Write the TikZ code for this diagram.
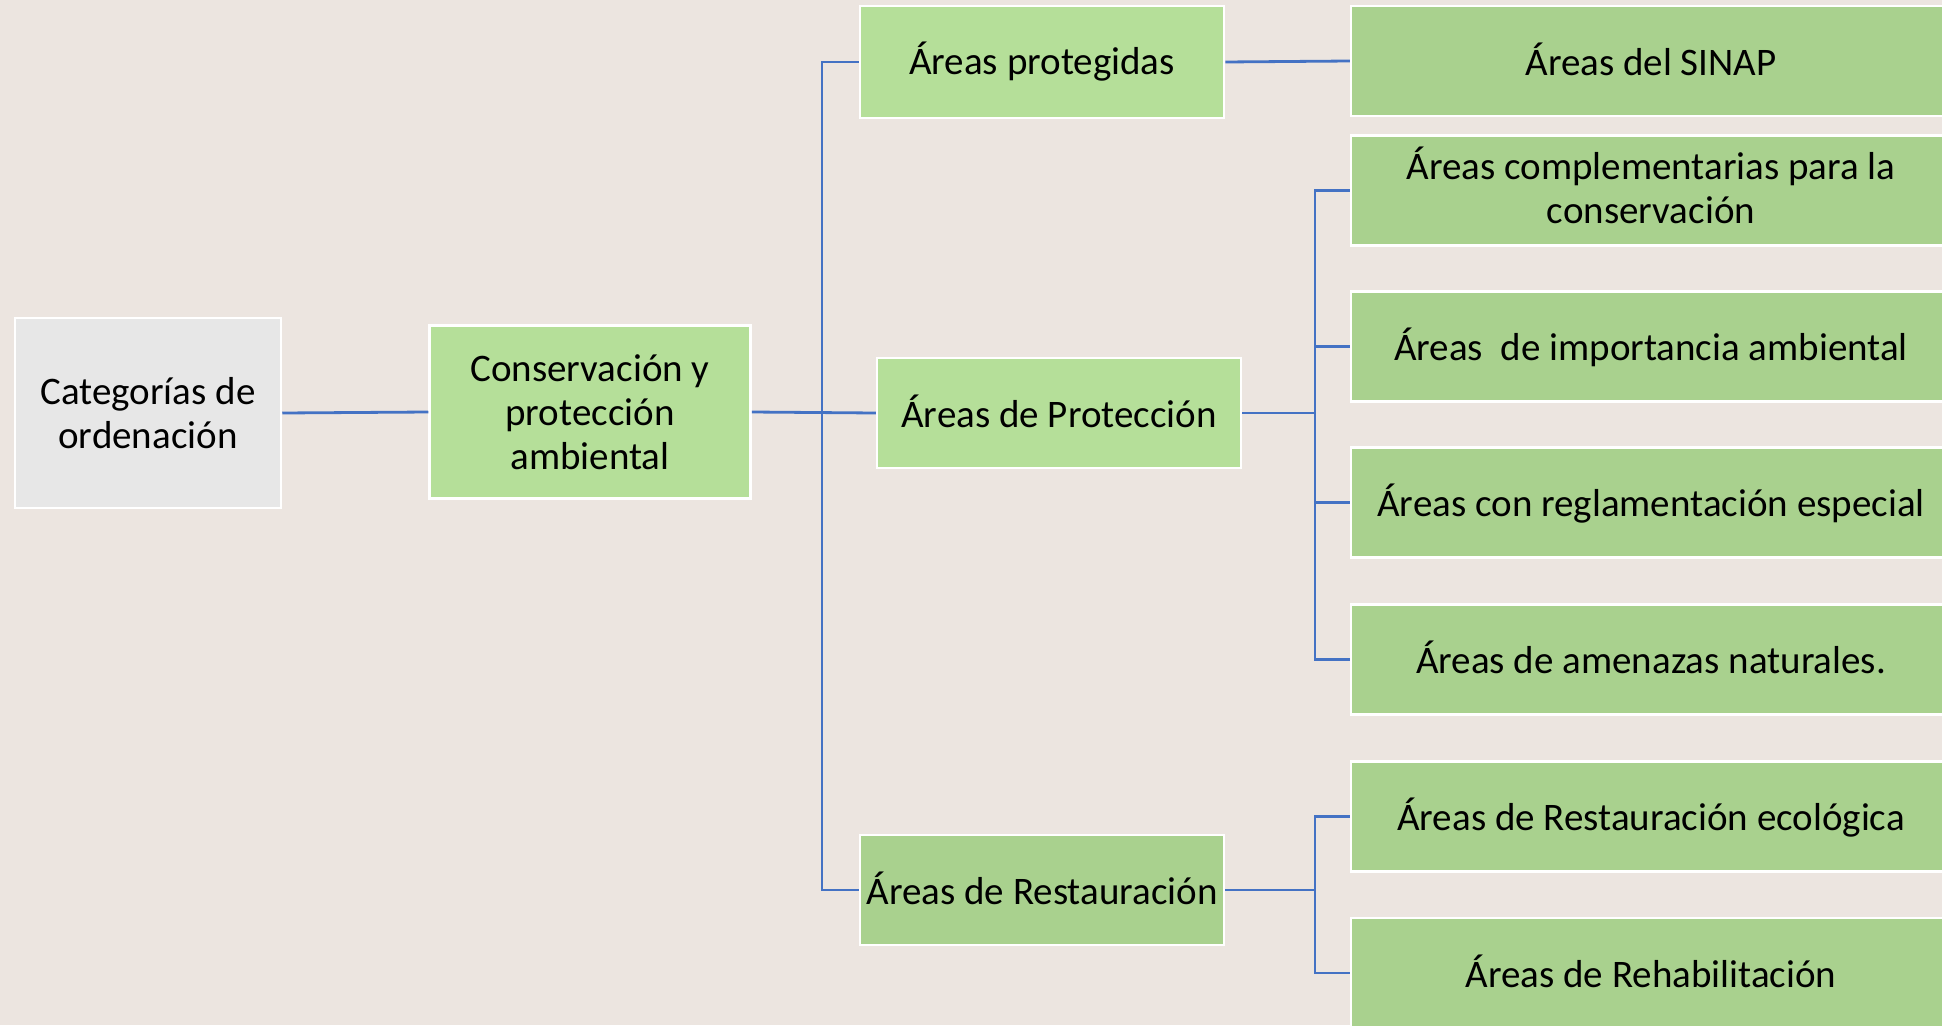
\documentclass[tikz,border=0pt]{standalone}
\usepackage{fontspec}
\setmainfont{Carlito}
\definecolor{bg}{HTML}{ECE5E0}
\definecolor{gA}{HTML}{B5DF99}
\definecolor{gB}{HTML}{A9D18E}
\definecolor{grey}{HTML}{E7E7E7}
\definecolor{line}{HTML}{4472C4}
\tikzset{
  box/.style={draw=white, line width=2.5pt, inner sep=0pt, align=center,
    font=\fontsize{39}{44}\selectfont, text=black},
  one/.style={text height=36pt, text depth=8pt},
  conn/.style={draw=line, line width=2.8pt}
}
\begin{document}
\begin{tikzpicture}[x=1pt,y=-1pt]
\useasboundingbox (0,0) rectangle (1942,1025);
\clip (0,0) rectangle (1942,1025);
\fill[bg] (0,0) rectangle (1942,1025);

\node[box, fill=grey, minimum width=266pt, minimum height=190pt] (cat) at (148,413) {Categorías de\\ordenación};
\node[box, fill=gA, minimum width=321pt, minimum height=173pt] (cons) at (590,412) {Conservación y\\protección\\ambiental};
\node[box, fill=gA, minimum width=364pt, minimum height=112pt, text height=36pt, text depth=11pt] (prot) at (1042,62) {Áreas protegidas};
\node[box, one, fill=gA, minimum width=364pt, minimum height=110pt] (pro) at (1059,413) {Áreas de Protección};
\node[box, one, fill=gB, minimum width=364pt, minimum height=110pt] (res) at (1042,890) {Áreas de Restauración};

\tikzset{rbox/.style={box, fill=gB, minimum width=600pt, minimum height=110pt}}
\node[rbox, one] (sinap) at (1651,61) {Áreas del SINAP};
\node[rbox, text depth=10pt] (compl) at (1651,190.5) {Áreas complementarias para la\\conservación};
\node[rbox, one] (imp) at (1651,346.5) {Áreas~~de importancia ambiental};
\node[rbox, one] (regl) at (1651,502.5) {Áreas con reglamentación especial};
\node[rbox, one] (amen) at (1651,659.5) {Áreas de amenazas naturales.};
\node[rbox, one] (eco) at (1651,816.5) {Áreas de Restauración ecológica};
\node[rbox, one] (rehab) at (1651,973) {Áreas de Rehabilitación};

\coordinate (b1) at (822,0);
\coordinate (b2) at (1315,0);

\draw[conn] (cat.east) -- (cons.west);
\draw[conn] (cons.east) -- (pro.west);
\draw[conn] (prot.west) -- (prot.west -| b1) -- (res.west -| b1) -- (res.west);
\draw[conn] (prot.east) -- (sinap.west);

\draw[conn] (pro.east) -- (pro.east -| b2);
\draw[conn] (compl.west) -- (compl.west -| b2) -- (amen.west -| b2) -- (amen.west);
\draw[conn] (imp.west) -- (imp.west -| b2);
\draw[conn] (regl.west) -- (regl.west -| b2);

\draw[conn] (res.east) -- (res.east -| b2);
\draw[conn] (eco.west) -- (eco.west -| b2) -- (rehab.west -| b2) -- (rehab.west);
\end{tikzpicture}
\end{document}
